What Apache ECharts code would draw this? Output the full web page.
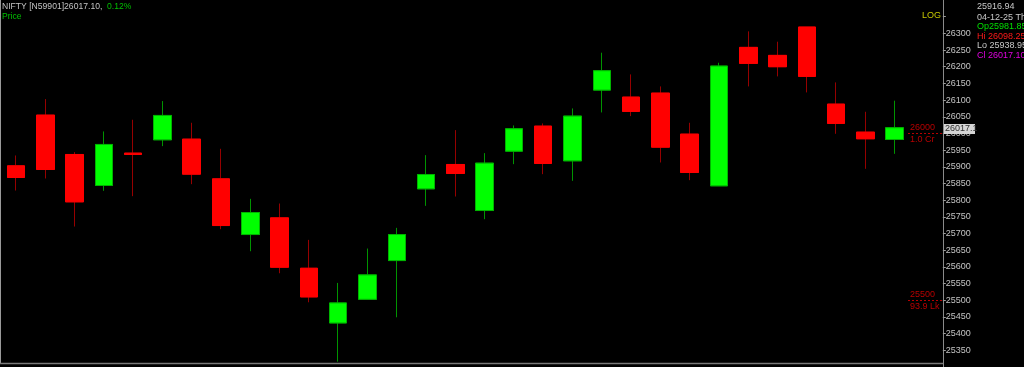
<!DOCTYPE html>
<html><head><meta charset="utf-8">
<script src="https://cdn.jsdelivr.net/npm/echarts@6/dist/echarts.min.js"></script>
<style>html,body{margin:0;padding:0;background:#000;}#c{width:1024px;height:367px;}</style>
</head><body><div id="c"></div>
<script>
// ---- data ----
const categories = ['21-10-25','23-10-25','24-10-25','27-10-25','28-10-25','29-10-25','30-10-25','31-10-25','03-11-25','04-11-25','06-11-25','07-11-25','10-11-25','11-11-25','12-11-25','13-11-25','14-11-25','17-11-25','18-11-25','19-11-25','20-11-25','21-11-25','24-11-25','25-11-25','26-11-25','27-11-25','28-11-25','01-12-25','02-12-25','03-12-25','04-12-25'];
const opens  = [25903,26055,25937,25844,25941,25981,25983,25864,25697,25747,25596,25432,25503,25619,25834,25907,25769,25947,26022,25918,26130,26109,26121,25998,25843,26258,26234,26319,26088,26004,25981.85];
const closes = [25868,25892,25795,25967,25937,26054,25878,25724,25763,25599,25510,25492,25576,25697,25877,25880,25911,26014,25910,26052,26188,26066,25959,25883,26202,26210,26200,26171,26030,25984,26017.10];
const lows   = [25829,25865,25721,25828,25812,25962,25848,25713,25647,25581,25494,25316,25503,25449,25783,25811,25743,25908,25878,25858,26063,26052,25913,25860,25843,26141,26171,26123,25999,25894,25938.95];
const highs  = [25934,26103,25944,26006,26041,26097,26032,25954,25804,25790,25681,25552,25655,25717,25935,26010,25941,26024,26030,26075,26242,26177,26141,26032,26212,26306,26275,26319,26153,26065,26098.25];
const levelPrices  = [26000, 25500];
const levelVolumes = ['1.0 Cr', '93.9 Lk'];
const yTickMin = 25300, yTickMax = 26400, yTickStep = 50;
const yLabelTop = 26300, yLabelBottom = 25350;
const titleText = 'NIFTY [N59901]26017.10,';
const changeText = '0.12%';
const infoLines = ['25916.94', '04-12-25 Th', 'Op25981.85', 'Hi 26098.25', 'Lo 25938.95', 'Cl 26017.10'];
const infoColors = ['#c8c8c8', '#c8c8c8', '#00e000', '#ff1a1a', '#c8c8c8', '#e000e0'];

// ---- derived series ----
const ohlc = opens.map((o, i) => [o, closes[i], lows[i], highs[i]]);
const bodies = opens.map((o, i) => [o, closes[i], Math.min(o, closes[i]), Math.max(o, closes[i])]);
const xData = categories.concat(['']);

const FONT = 'Liberation Sans';
const chart = echarts.init(document.getElementById('c'), null, {renderer: 'canvas'});
const option = {
  backgroundColor: '#000000',
  animation: false,
  grid: {left: 1.35, top: -4.76, width: 937.3, height: 373.3, containLabel: false},
  xAxis: {
    type: 'category', data: xData, boundaryGap: true,
    axisLine: {show: false}, axisTick: {show: false}, axisLabel: {show: false}, splitLine: {show: false}
  },
  yAxis: {
    type: 'value', position: 'right', offset: 4.2,
    min: yTickMin, max: yTickMax, interval: yTickStep,
    axisLine: {show: true, lineStyle: {color: '#8a8a8a', width: 1}},
    axisTick: {show: true, length: 3, lineStyle: {color: '#9a9a9a'}},
    axisLabel: {color: '#c4c4c4', fontSize: 9, fontFamily: FONT, margin: 3, showMinLabel: false, showMaxLabel: false,
      formatter: v => (v > yLabelTop || v < yLabelBottom) ? '' : String(v)},
    splitLine: {show: false}
  },
  series: [
    {
      type: 'candlestick', name: 'wick', data: ohlc, barWidth: 18,
      itemStyle: {color: '#00ff00', color0: '#ff0000', borderColor: '#009400', borderColor0: '#960000', borderWidth: 1},
      emphasis: {disabled: true}
    },
    {
      type: 'candlestick', name: 'body', data: bodies, barWidth: 18,
      itemStyle: {color: '#00ff00', color0: '#ff0000', borderColor: '#00b400', borderColor0: '#ff0000', borderWidth: 1},
      emphasis: {disabled: true}
    }
  ]
};
chart.setOption(option);

const yOf = v => chart.convertToPixel({yAxisIndex: 0}, v);
const graphics = [];
// frame lines
graphics.push({type: 'line', shape: {x1: 0.5, y1: 0, x2: 0.5, y2: 363}, style: {stroke: '#9a9a9a', lineWidth: 1}, z: 10});
graphics.push({type: 'line', shape: {x1: 0, y1: 363.5, x2: 943, y2: 363.5}, style: {stroke: '#7a7a7a', lineWidth: 1.5}, z: 10});
// level markers
levelPrices.forEach((p, i) => {
  const y = yOf(p);
  graphics.push({type: 'line', shape: {x1: 908, y1: Math.round(y) + 0.5, x2: 942, y2: Math.round(y) + 0.5}, style: {stroke: '#b80000', lineWidth: 1, lineDash: [2, 2]}, z: 10});
  graphics.push({type: 'text', x: 910, y: y - 5.5, style: {text: String(p), fill: '#b80000', font: '9px ' + FONT, align: 'left', verticalAlign: 'middle'}, z: 10});
  graphics.push({type: 'text', x: 910, y: y + 6, style: {text: levelVolumes[i], fill: '#b80000', font: '9px ' + FONT, align: 'left', verticalAlign: 'middle'}, z: 10});
});
// last price box
const last = closes[closes.length - 1];
const yl = yOf(last);
graphics.push({type: 'rect', shape: {x: 944, y: Math.round(yl) - 4, width: 31, height: 10}, style: {fill: '#d4d4d4'}, z: 20});
graphics.push({type: 'text', x: 945, y: Math.round(yl) + 1, style: {text: last.toFixed(1), fill: '#303030', font: '9px ' + FONT, align: 'left', verticalAlign: 'middle'}, z: 21});
// title texts
graphics.push({type: 'text', x: 2, y: 7, style: {text: titleText, fill: '#c4c4c4', font: '8.6px ' + FONT, verticalAlign: 'middle'}, z: 10});
graphics.push({type: 'text', x: 107, y: 7, style: {text: changeText, fill: '#00c000', font: '8.6px ' + FONT, verticalAlign: 'middle'}, z: 10});
graphics.push({type: 'text', x: 2, y: 17, style: {text: 'Price', fill: '#00c000', font: '8.6px ' + FONT, verticalAlign: 'middle'}, z: 10});
graphics.push({type: 'text', x: 941, y: 16, style: {text: 'LOG', fill: '#c8c800', font: '9px ' + FONT, align: 'right', verticalAlign: 'middle'}, z: 10});
// info panel
const infoY = [7, 17.3, 27, 36.5, 46, 55.5];
infoLines.forEach((t, i) => {
  graphics.push({type: 'text', x: 977, y: infoY[i], style: {text: t, fill: infoColors[i], font: '9px ' + FONT, verticalAlign: 'middle'}, z: 10});
});
chart.setOption({graphic: {elements: graphics}});
</script></body></html>
